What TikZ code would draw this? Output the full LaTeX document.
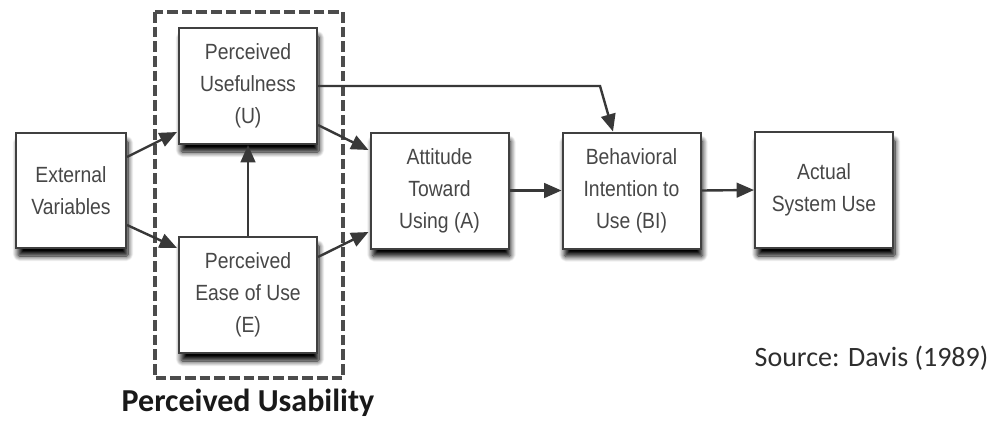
\documentclass[tikz,border=0pt]{standalone}
\usepackage{fontspec}
\setmainfont{Liberation Sans}
\newfontfamily\boxfont[FakeStretch=0.88]{Liberation Sans}
\newfontfamily\captionfont{Carlito}
\usetikzlibrary{arrows.meta,calc,shadows.blur}

\begin{document}
\begin{tikzpicture}[x=0.75pt,y=-0.75pt,
  tambox/.style={draw=black!75, line width=1.5pt, fill=white,
    align=center, text=black!72, inner sep=0pt,
    font=\boxfont\fontsize{16.5}{24}\selectfont,
    blur shadow={shadow xshift=1.5pt, shadow yshift=-6pt,
      shadow blur steps=10, shadow blur radius=4pt, shadow opacity=100,
      shadow blur extra rounding=1pt}},
  wide/.style={minimum width=103.5pt, minimum height=87pt},
  link/.style={draw=black!78, line width=1.8pt,
    -{Triangle[length=13pt,width=11pt]}},
  groupframe/.style={draw=black!70, line width=3pt,
    dash pattern=on 8pt off 3pt}]

\useasboundingbox (0,0) rectangle (998,425);

% constructs of the model
\node[tambox, minimum width=82.5pt, minimum height=86.25pt]
  (EV) at (71,190.5) {External\\Variables};
\node[tambox, wide] (PU) at (248,86) {Perceived\\Usefulness\\(U)};
\node[tambox, wide] (PE) at (248,295) {Perceived\\Ease of Use\\(E)};
\node[tambox, wide] (AT) at (439.5,190.5) {Attitude\\Toward\\Using (A)};
\node[tambox, wide] (BI) at (631.5,190.5) {Behavioral\\Intention to\\Use (BI)};
\node[tambox, wide] (AU) at (824,190) {Actual\\System Use};

% dashed group around U and E
\draw[groupframe] (155,12) rectangle (343,378);
\node[font=\captionfont\bfseries\fontsize{24}{28}\selectfont, text=black!90]
  (usab) at (248,403) {Perceived Usability};

% relations
\draw[link] ($(EV.east)+(0,-33.5)$) -- ($(PU.west)+(-1,46)$);
\draw[link] ($(EV.east)+(0,34.5)$) -- ($(PE.west)+(-1,-47)$);
\draw[link] (PE.north) -- (PU.south);
\draw[link] ($(PU.east)+(0,39)$) -- ($(AT.west)+(-1,-40.5)$);
\draw[link] ($(PE.east)+(0,-38)$) -- ($(AT.west)+(-1,41.5)$);
\coordinate (bend) at (600,86);
\draw[link] (PU.east) -- (bend) -- ($(BI.north)+(-18.5,0)$);
\draw[link] (AT.east) -- (BI.west);
\draw[link] (BI.east) -- (AU.west);

% citation
\node[font=\captionfont\fontsize{21}{25}\selectfont, text=black!82]
  (src) at (871.5,358) {Source: Davis (1989)};
\end{tikzpicture}
\end{document}
